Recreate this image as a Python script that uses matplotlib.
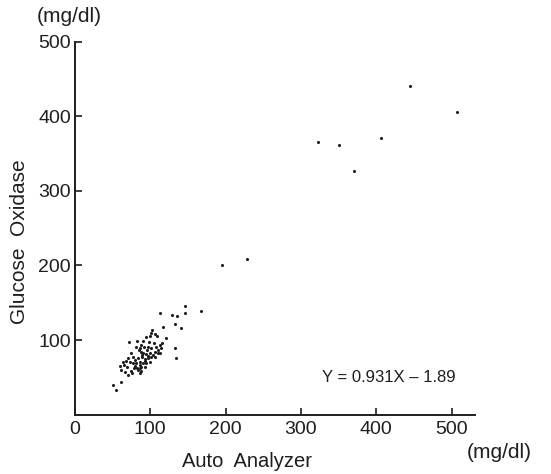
import matplotlib
matplotlib.use("Agg")
import matplotlib.pyplot as plt

plt.rcParams["font.family"] = ["Liberation Sans", "DejaVu Sans"]

# Auto Analyzer (x) vs Glucose Oxidase (y), mg/dl
auto_analyzer = [
    113.4, 129.4, 135.5, 145.7, 146.2, 167.4, 116.9, 133.3, 141.3, 102.8,
    100.6, 105.9, 99.2, 109.0, 94.8, 71.8, 82.8, 90.4, 97.9, 121.4,
    88.2, 81.5, 85.9, 91.7, 97.0, 101.4, 108.1, 112.5, 115.6, 110.3,
    114.7, 105.9, 132.4, 74.9, 87.3, 90.4, 94.8, 99.2, 103.7, 110.3,
    113.4, 70.4, 77.1, 83.7, 89.5, 92.6, 97.0, 101.4, 106.8, 63.8,
    68.2, 72.6, 77.1, 81.5, 85.9, 90.4, 94.8, 99.2, 134.7, 59.4,
    65.1, 69.5, 79.3, 82.8, 85.9, 88.2, 92.6, 61.6, 66.0, 74.9,
    83.7, 87.3, 70.4, 75.7, 85.9, 50.5, 60.7, 54.9, 93.0, 96.5,
    86.5, 80.0, 88.5, 95.5, 104.5, 78.5, 84.5,
    195.3, 229.0, 323.3, 350.8, 369.8, 406.6, 444.8, 507.2,
]
glucose_oxidase = [
    136.6, 133.6, 132.7, 135.8, 146.0, 139.3, 117.9, 121.0, 115.7, 113.4,
    109.0, 107.6, 105.4, 105.8, 103.6, 96.9, 98.2, 98.2, 97.8, 102.3,
    93.3, 91.1, 88.8, 91.1, 91.1, 88.8, 91.1, 93.3, 95.5, 86.6,
    88.8, 84.4, 88.8, 83.0, 84.4, 83.0, 81.2, 82.1, 79.9, 83.0,
    82.1, 75.4, 76.7, 75.4, 77.6, 74.1, 75.4, 76.7, 77.6, 70.9,
    71.8, 70.9, 68.7, 69.6, 70.9, 68.7, 68.7, 70.9, 75.4, 65.1,
    66.5, 64.2, 65.1, 62.9, 62.0, 64.2, 64.2, 59.7, 57.5, 58.4,
    59.7, 58.4, 53.0, 55.3, 56.2, 39.6, 44.1, 32.9, 72.0, 79.0,
    66.0, 73.0, 80.5, 86.0, 96.0, 63.0, 86.5,
    200.7, 209.0, 366.2, 361.7, 327.2, 370.7, 440.5, 406.4,
]
x_ticks = [0, 100, 200, 300, 400, 500]
y_ticks = [100, 200, 300, 400, 500]
equation = "Y = 0.931X \u2013 1.89"

INK = "#1e1e1e"

fig = plt.figure(figsize=(5.51, 4.74), dpi=100)
ax = fig.add_axes([0.136, 0.1255, 0.726, 0.786])

ax.scatter(auto_analyzer, glucose_oxidase, s=5, color=INK, linewidths=0)

ax.set_xlim(0, 531)
ax.set_ylim(0, 500)
ax.set_xticks(x_ticks)
ax.set_yticks(y_ticks)
ax.spines["top"].set_visible(False)
ax.spines["right"].set_visible(False)
for s in ("left", "bottom"):
    ax.spines[s].set_linewidth(1.4)
    ax.spines[s].set_color(INK)
ax.tick_params(direction="in", length=5, width=1.2, labelsize=14, colors=INK)
ax.tick_params(axis="x", pad=5)
ax.tick_params(axis="y", pad=3)

ax.text(328, 50, equation, fontsize=12, color=INK, va="center", ha="left")

fig.text(0.067, 0.966, "(mg/dl)", fontsize=15, color=INK, ha="left", va="center")
fig.text(0.848, 0.046, "(mg/dl)", fontsize=15, color=INK, ha="left", va="center")
fig.text(0.448, 0.026, "Auto  Analyzer", fontsize=14.5, color=INK, ha="center", va="center")
fig.text(0.036, 0.49, "Glucose  Oxidase", fontsize=15, color=INK,
         ha="center", va="center", rotation=90)

fig.savefig("out.png", dpi=100)
